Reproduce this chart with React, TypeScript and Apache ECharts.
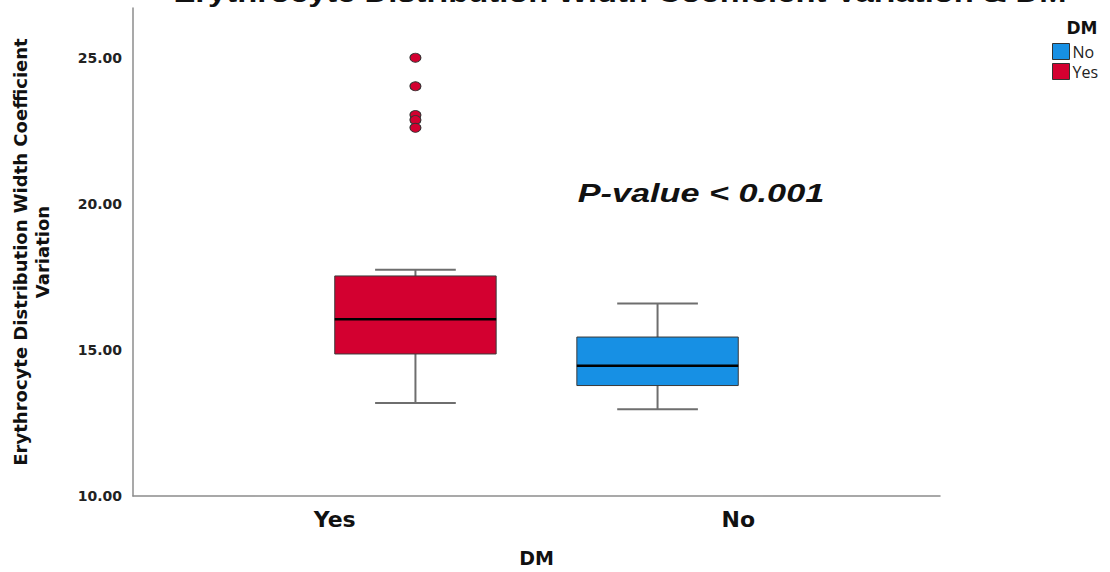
import React, { useEffect, useRef } from "react";
import * as echarts from "echarts";

// ---- data ----
const categories = ["Yes", "No"];
const seriesNames = ["Yes", "No"];
// x position of each box on the hidden value axis (0..2)
const boxPositions = [0.7, 1.3];
// [min, Q1, median, Q3, max]
const yesStats = [13.18, 14.86, 16.05, 17.53, 17.74];
const noStats = [12.97, 13.78, 14.46, 15.44, 16.59];
const yesOutliers = [25.0, 24.02, 23.04, 22.87, 22.6];
const yTicks = [10, 15, 20, 25];

const RED = "#D30030";
const BLUE = "#1790E4";

function renderBox(params: any, api: any) {
  const x = api.value(0);
  const lo = api.value(1);
  const q1 = api.value(2);
  const med = api.value(3);
  const q3 = api.value(4);
  const hi = api.value(5);
  const w = api.size([0.4, 0])[0];
  const cw = w / 2;
  const pLo = api.coord([x, lo]);
  const pQ1 = api.coord([x, q1]);
  const pMed = api.coord([x, med]);
  const pQ3 = api.coord([x, q3]);
  const pHi = api.coord([x, hi]);
  const cx = pMed[0];
  const whisker = { stroke: "#6e6e6e", lineWidth: 2 };
  const color = api.visual("color");
  return {
    type: "group",
    children: [
      { type: "line", shape: { x1: cx, y1: pQ3[1], x2: cx, y2: pHi[1] }, style: whisker },
      { type: "line", shape: { x1: cx, y1: pQ1[1], x2: cx, y2: pLo[1] }, style: whisker },
      { type: "line", shape: { x1: cx - cw / 2, y1: pHi[1], x2: cx + cw / 2, y2: pHi[1] }, style: whisker },
      { type: "line", shape: { x1: cx - cw / 2, y1: pLo[1], x2: cx + cw / 2, y2: pLo[1] }, style: whisker },
      {
        type: "rect",
        shape: { x: cx - w / 2, y: pQ3[1], width: w, height: pQ1[1] - pQ3[1] },
        style: { fill: color, stroke: "#3a3a3a", lineWidth: 1 },
      },
      {
        type: "line",
        shape: { x1: cx - w / 2, y1: pMed[1], x2: cx + w / 2, y2: pMed[1] },
        style: { stroke: "#000", lineWidth: 2.5 },
      },
    ],
  };
}

export default function App() {
  const ref = useRef<HTMLDivElement>(null);
  useEffect(() => {
    if (!ref.current) return;
    const chart = echarts.init(ref.current, undefined, { renderer: "svg" });
    const boldFont = "DejaVu Sans";
    chart.setOption({
      animation: false,
      backgroundColor: "#ffffff",
      grid: { left: 133, right: 170, top: 8, bottom: 70 },
      legend: {
        orient: "vertical",
        left: 1052,
        top: 43,
        padding: 0,
        itemWidth: 17,
        itemHeight: 16,
        itemGap: 3,
        icon: "rect",
        textStyle: { fontFamily: "Open Sans", fontSize: 16, lineHeight: 16, color: "#222", padding: [0, 0, 0, -2] },
        data: [
          { name: "No", itemStyle: { color: BLUE, borderColor: "#333", borderWidth: 1 } },
          { name: "Yes", itemStyle: { color: RED, borderColor: "#333", borderWidth: 1 } },
        ],
      },
      xAxis: [
        {
          type: "category",
          data: categories,
          axisLine: { show: true, lineStyle: { color: "#8c8c8c", width: 1.5 } },
          axisTick: { show: false },
          axisLabel: { fontFamily: boldFont, fontWeight: "bold", fontSize: 22, color: "#111", margin: 12 },
          name: "DM",
          nameLocation: "middle",
          nameGap: 52,
          nameTextStyle: { fontFamily: boldFont, fontWeight: "bold", fontSize: 19, color: "#111" },
        },
        { type: "value", min: 0, max: 2, show: false },
      ],
      yAxis: {
        type: "value",
        min: yTicks[0],
        max: 26.7,
        interval: 5,
        axisLine: { show: true, lineStyle: { color: "#8c8c8c", width: 1.5 } },
        axisTick: { show: false },
        splitLine: { show: false },
        axisLabel: {
          showMaxLabel: false,
          formatter: (v: number) => v.toFixed(2),
          fontFamily: boldFont,
          fontWeight: "bold",
          fontSize: 14,
          color: "#222",
          margin: 11,
        },
        name: "Erythrocyte Distribution Width Coefficient\nVariation",
        nameLocation: "middle",
        nameRotate: 90,
        nameGap: 80,
        nameTextStyle: { fontFamily: boldFont, fontWeight: "bold", fontSize: 18, color: "#111", lineHeight: 22 },
      },
      series: [
        {
          name: seriesNames[0],
          type: "custom",
          xAxisIndex: 1,
          itemStyle: { color: RED },
          renderItem: renderBox,
          encode: { x: 0, y: [1, 2, 3, 4, 5] },
          data: [[boxPositions[0], ...yesStats]],
        },
        {
          name: seriesNames[1],
          type: "custom",
          xAxisIndex: 1,
          itemStyle: { color: BLUE },
          renderItem: renderBox,
          encode: { x: 0, y: [1, 2, 3, 4, 5] },
          data: [[boxPositions[1], ...noStats]],
        },
        {
          name: "Yes outliers",
          type: "scatter",
          xAxisIndex: 1,
          symbol: "circle",
          symbolSize: [11, 9],
          itemStyle: { color: RED, borderColor: "#333", borderWidth: 1, opacity: 1 },
          data: yesOutliers.map((v) => [boxPositions[0], v]),
        },
      ],
      graphic: [
        {
          type: "text",
          x: 620,
          y: 6,
          scaleX: 1.26,
          style: {
            text: "Erythrocyte Distribution Width Coefficient Variation & DM",
            fontFamily: "Liberation Sans",
            fontWeight: "bold",
            fontSize: 26,
            fill: "#111",
            align: "center",
            verticalAlign: "bottom",
          },
        },
        {
          type: "text",
          x: 701,
          y: 193,
          scaleX: 1.37,
          style: {
            text: "P-value < 0.001",
            fontFamily: "Liberation Sans",
            fontWeight: "bold",
            fontStyle: "italic",
            fontSize: 25,
            fill: "#111",
            align: "center",
            verticalAlign: "middle",
          },
        },
        {
          type: "text",
          x: 1082,
          y: 28,
          style: {
            text: "DM",
            fontFamily: boldFont,
            fontWeight: "bold",
            fontSize: 17,
            fill: "#111",
            align: "center",
            verticalAlign: "middle",
          },
        },
      ],
    });
    return () => chart.dispose();
  }, []);
  return (
    <div
      ref={ref}
      style={{ position: "fixed", left: 0, top: 0, width: 1110, height: 572, background: "#fff" }}
    />
  );
}
